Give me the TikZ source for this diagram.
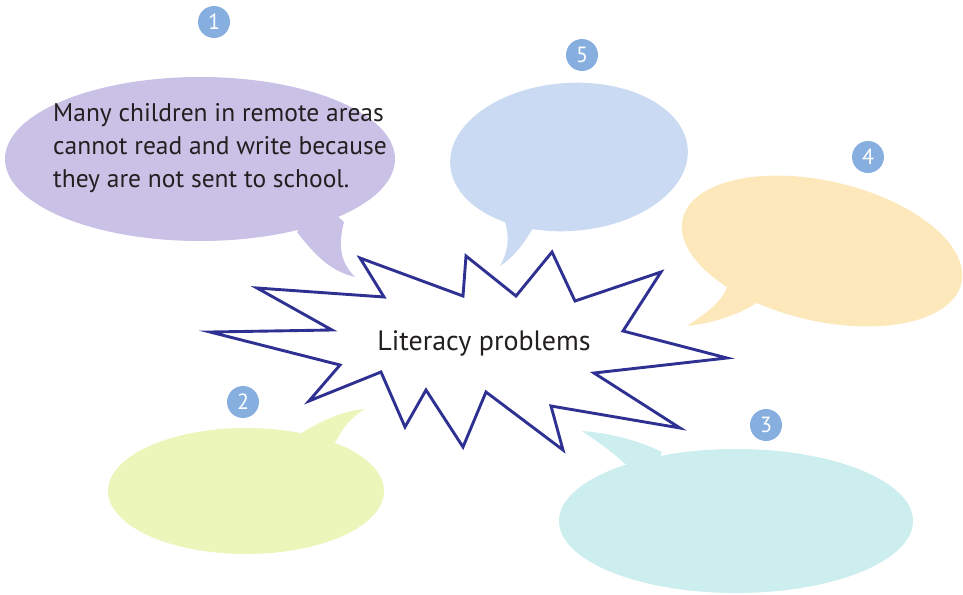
\documentclass[tikz,border=0pt]{standalone}
\usepackage{fontspec}
\setmainfont{PT Sans}
\begin{document}
\definecolor{inkblue}{HTML}{2E3192}
\definecolor{txt}{HTML}{231F20}
\definecolor{numblue}{HTML}{86AFE0}
\definecolor{bpurple}{HTML}{C9C1E6}
\definecolor{bgreen}{HTML}{ECF5BA}
\definecolor{bcyan}{HTML}{CDEEEE}
\definecolor{borange}{HTML}{FDE8BC}
\definecolor{bblue}{HTML}{C9DAF2}
\begin{tikzpicture}[x=1pt,y=-1pt,
  numdot/.style={circle,fill=numblue,minimum size=32pt,inner sep=0pt,
    text=white,font=\fontsize{22}{22}\selectfont},
  burst/.style={draw=inkblue,fill=white,line width=2.9pt,line join=miter},
  bodytext/.style={text=txt,font=\fontsize{25.5}{33}\selectfont,inner sep=0pt},
  titletext/.style={text=txt,font=\fontsize{28}{30}\selectfont,inner sep=0pt}]
\useasboundingbox (0,0) rectangle (963,594);

% speech bubble 1 (purple)
\fill[bpurple] (200,159) ellipse [x radius=195, y radius=82];
\fill[bpurple] (297,232) .. controls (320,262) and (335,272) .. (355,277)
  .. controls (340,262) and (338,245) .. (344,222) -- (320,200) -- cycle;
% speech bubble 5 (light blue)
\fill[bblue,rotate around={4:(569,157)}] (569,157) ellipse [x radius=119, y radius=74];
\fill[bblue] (505,222) .. controls (510,238) and (508,252) .. (500,266)
  .. controls (515,256) and (525,242) .. (533,228) -- (520,210) -- cycle;
% speech bubble 4 (orange)
\fill[borange,rotate around={-13:(822,251)}] (822,251) ellipse [x radius=143, y radius=70];
\fill[borange] (727,287) .. controls (722,302) and (705,314) .. (687,326)
  .. controls (715,323) and (740,314) .. (758,302) -- (750,280) -- cycle;
% speech bubble 2 (green)
\fill[bgreen] (246,491) ellipse [x radius=138, y radius=63];
\fill[bgreen] (296,436) .. controls (320,422) and (340,411) .. (365,409)
  .. controls (350,418) and (343,428) .. (336,441) -- (316,460) -- cycle;
% speech bubble 3 (cyan)
\fill[bcyan] (736,521) ellipse [x radius=177, y radius=72];
\fill[bcyan] (624,463) .. controls (610,450) and (595,440) .. (582,431)
  .. controls (610,433) and (640,441) .. (662,452) -- (650,480) -- cycle;

% central starburst
\draw[burst] (210,332) -- (332,330) -- (257,288) -- (384,297) -- (360,258)
  -- (463,296) -- (466,256) -- (516,296) -- (552,252) -- (575,301)
  -- (661,272) -- (623,331) -- (727,358) -- (594,373) -- (680,428)
  -- (551,406) -- (563,450) -- (486,392) -- (463,447) -- (426,390)
  -- (405,427) -- (381,372) -- (309,401) -- (340,365) -- cycle;
\node[titletext] (center) at (484,343) {Literacy problems};

% text of bubble 1
\node[bodytext,anchor=west,align=left] (t1) at (53,148)
  {Many children in remote areas\\cannot read and write because\\they are not sent to school.};

% number markers
\node[numdot] (n1) at (214,22) {1};
\node[numdot] (n2) at (243,402) {2};
\node[numdot] (n3) at (766,425) {3};
\node[numdot] (n4) at (868,157) {4};
\node[numdot] (n5) at (582,55) {5};
\end{tikzpicture}
\end{document}
